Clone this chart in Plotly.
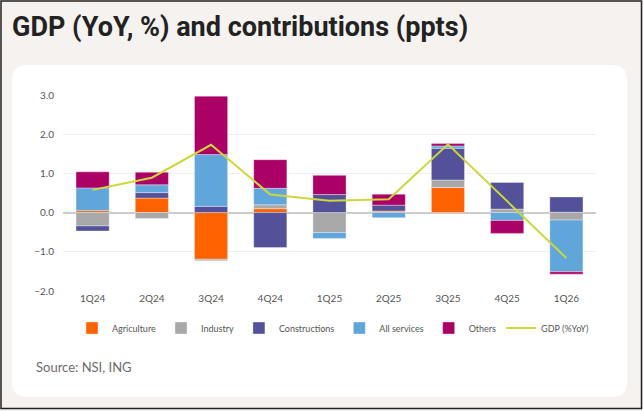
import plotly.graph_objects as go

# quarters and contributions (ppts), GDP in % YoY
quarters = ["1Q24", "2Q24", "3Q24", "4Q24", "1Q25", "2Q25", "3Q25", "4Q25", "1Q26"]
agriculture = [0.05, 0.37, -1.19, 0.10, 0.00, 0.04, 0.64, 0.00, 0.01]
industry = [-0.34, -0.15, -0.04, 0.10, -0.51, 0.00, 0.19, 0.09, -0.19]
constructions = [-0.13, 0.14, 0.16, -0.89, 0.46, 0.15, 0.81, 0.68, 0.39]
services = [0.58, 0.20, 1.32, 0.42, -0.15, -0.13, 0.06, -0.20, -1.32]
others = [0.41, 0.32, 1.49, 0.73, 0.49, 0.28, 0.06, -0.33, -0.06]
gdp = [0.58, 0.89, 1.73, 0.46, 0.30, 0.34, 1.74, 0.30, -1.16]

W, H = 643, 411
ML, MR, MT, MB = 63, 47, 95, 120

def px_x(p):
    return (p - ML) / (W - ML - MR)

def px_y(p):
    return (H - MB - p) / (H - MT - MB)

def main():
    fig = go.Figure()
    series = [
        ("Agriculture", agriculture, "#FF6200"),
        ("Industry", industry, "#A8A8A8"),
        ("Constructions", constructions, "#525199"),
        ("All services", services, "#60A6DA"),
        ("Others", others, "#AB0066"),
    ]
    for name, vals, col in series:
        fig.add_trace(go.Bar(name=name, x=quarters, y=vals, marker_color=col,
                             marker_line_width=0.6, marker_line_color="rgba(255,255,255,0.6)"))
    fig.add_trace(go.Scatter(name="GDP (%YoY)", x=quarters, y=gdp, mode="lines",
                             line=dict(color="#CDD63A", width=2)))

    # white rounded card
    x0, x1 = px_x(12), px_x(627)
    y0, y1 = px_y(397), px_y(65)
    rx, ry = 15 / (W - ML - MR), 15 / (H - MT - MB)
    card = (f"M{x0+rx},{y1} L{x1-rx},{y1} Q{x1},{y1} {x1},{y1-ry} "
            f"L{x1},{y0+ry} Q{x1},{y0} {x1-rx},{y0} L{x0+rx},{y0} "
            f"Q{x0},{y0} {x0},{y0+ry} L{x0},{y1-ry} Q{x0},{y1} {x0+rx},{y1} Z")
    fig.add_shape(type="path", path=card, xref="paper", yref="paper",
                  fillcolor="white", line_width=0, layer="below")
    # outer frame
    fig.add_shape(type="rect", xref="paper", yref="paper",
                  x0=px_x(1), x1=px_x(641.5), y0=px_y(408.5), y1=px_y(1),
                  line=dict(color="#222222", width=1.5), fillcolor="rgba(0,0,0,0)")

    fig.add_annotation(text="Source: NSI, ING", xref="paper", yref="paper",
                       x=px_x(34), y=px_y(367), xanchor="left", yanchor="middle",
                       showarrow=False, font=dict(size=13, color="#6b6b6b", family="Lato"))

    fig.update_layout(
        width=W, height=H,
        margin=dict(l=ML, r=MR, t=MT, b=MB, autoexpand=False),
        barmode="relative",
        bargap=0.44,
        paper_bgcolor="#F5F2EF",
        plot_bgcolor="rgba(0,0,0,0)",
        font=dict(family="Lato", size=10, color="#555555"),
        title=dict(text="<b>GDP (YoY, %) and contributions (ppts)</b>",
                   xref="container", x=12 / W, xanchor="left",
                   yref="container", y=1 - 27 / H, yanchor="middle",
                   font=dict(family="Roboto", size=27, color="#222222")),
        showlegend=True,
        legend=dict(orientation="h", xref="paper", yref="paper",
                    x=px_x(72), xanchor="left", y=px_y(328), yanchor="middle",
                    font=dict(size=9, color="#555555"), bgcolor="rgba(0,0,0,0)",
                    itemwidth=30, tracegroupgap=0),
        xaxis=dict(showgrid=False, showline=False, ticks="", tickfont=dict(size=10)),
        yaxis=dict(range=[-2, 3], dtick=1, tickformat=".1f", showgrid=True,
                   gridcolor="#EFEFEF", gridwidth=1, zeroline=True,
                   zerolinecolor="#CCCCCC", zerolinewidth=1.5, ticks="",
                   tickfont=dict(size=10), ticklabelstandoff=8),
    )
    fig.write_html("out.html", config={"displayModeBar": False},
                   post_script="document.body.style.margin='0';")

if __name__ == "__main__":
    main()
